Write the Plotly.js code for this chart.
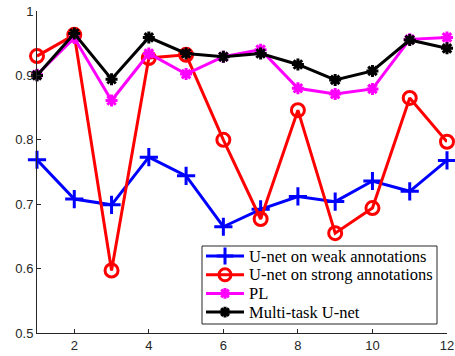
<!DOCTYPE html>
<html><head><meta charset="utf-8">
<script src="https://cdn.plot.ly/plotly-3.0.1.min.js"></script>
<style>html,body{margin:0;padding:0;background:#fff}#chart{width:455px;height:356px}</style>
</head><body><div id="chart"></div>
<script>
const xs = [1,2,3,4,5,6,7,8,9,10,11,12];
const weak = [0.769,0.708,0.699,0.773,0.744,0.665,0.692,0.712,0.704,0.736,0.720,0.768];
const strong = [0.930,0.963,0.597,0.927,0.932,0.800,0.677,0.846,0.655,0.694,0.865,0.797];
const pl = [0.901,0.958,0.861,0.934,0.902,0.929,0.940,0.880,0.871,0.879,0.956,0.959];
const multi = [0.900,0.965,0.894,0.959,0.934,0.929,0.934,0.917,0.893,0.907,0.955,0.942];
const names = ["U-net on weak annotations","U-net on strong annotations","PL","Multi-task U-net"];
const colors = ['#0000ff','#ff0000','#ff00ff','#000000'];
const symbols = ['cross-thin-open','circle-open','asterisk-open','asterisk-open'];
const sizes = [13,13,10,10];
const xticks = [2,4,6,8,10,12];
const yticks = [0.5,0.6,0.7,0.8,0.9,1];
const yticklabels = ["0.5","0.6","0.7","0.8","0.9","1"];

// plot area in pixels
const PL = 37, PR = 447, PT = 11, PB = 333;
// legend box geometry (pixels)
const LB = {x0:202, x1:437, y0:246, y1:324, row0:256, dy:18.7, s0:206, s1:244, tx:247};

const series = [weak, strong, pl, multi];
const data = series.map((y,i)=>({x:xs, y:y, name:names[i], type:'scatter', mode:'lines+markers',
  showlegend:false, xaxis:'x', yaxis:'y', cliponaxis:false,
  line:{color:colors[i], width:3},
  marker:{symbol:symbols[i], size:sizes[i], color:colors[i], line:{color:colors[i], width:3}}}));

// legend background box on pixel overlay axes
data.push({x:[LB.x0,LB.x1,LB.x1,LB.x0,LB.x0], y:[LB.y0,LB.y0,LB.y1,LB.y1,LB.y0], xaxis:'x2', yaxis:'y2',
  type:'scatter', mode:'lines', fill:'toself', fillcolor:'#ffffff', line:{color:'#262626', width:1},
  showlegend:false, hoverinfo:'skip'});
const annotations = [];
names.forEach((n,i)=>{
  const yy = LB.row0 + i*LB.dy;
  data.push({x:[LB.s0,LB.s1], y:[yy,yy], xaxis:'x2', yaxis:'y2', type:'scatter', mode:'lines',
    line:{color:colors[i], width:3}, showlegend:false, hoverinfo:'skip'});
  data.push({x:[(LB.s0+LB.s1)/2], y:[yy], xaxis:'x2', yaxis:'y2', type:'scatter', mode:'markers',
    marker:{symbol:symbols[i], size:sizes[i]-1, color:colors[i], line:{color:colors[i], width:3}},
    showlegend:false, hoverinfo:'skip'});
  annotations.push({xref:'x2', yref:'y2', x:LB.tx, y:yy, text:n, showarrow:false,
    xanchor:'left', yanchor:'middle',
    font:{family:'Liberation Serif, Times New Roman, serif', size:16.5, color:'#000'}});
});

const axisCommon = {showgrid:false, zeroline:false, showline:true, linecolor:'#262626', linewidth:1,
  ticks:'inside', ticklen:4, tickcolor:'#262626', tickwidth:1,
  tickfont:{family:'Liberation Sans, Arial, sans-serif', size:13, color:'#262626'}};
const layout = {
  width:455, height:356,
  margin:{l:PL, r:455-PR, t:PT, b:356-PB},
  paper_bgcolor:'#fff', plot_bgcolor:'#fff',
  xaxis: Object.assign({}, axisCommon, {range:[1,12], tickvals:xticks, ticktext:xticks.map(String)}),
  yaxis: Object.assign({}, axisCommon, {range:[0.5,1], tickvals:yticks, ticktext:yticklabels}),
  xaxis2:{overlaying:'x', range:[PL,PR], visible:false, fixedrange:true},
  yaxis2:{overlaying:'y', range:[PB,PT], visible:false, fixedrange:true},
  showlegend:false,
  annotations:annotations
};
Plotly.newPlot('chart', data, layout, {displayModeBar:false, staticPlot:true});
</script></body></html>
